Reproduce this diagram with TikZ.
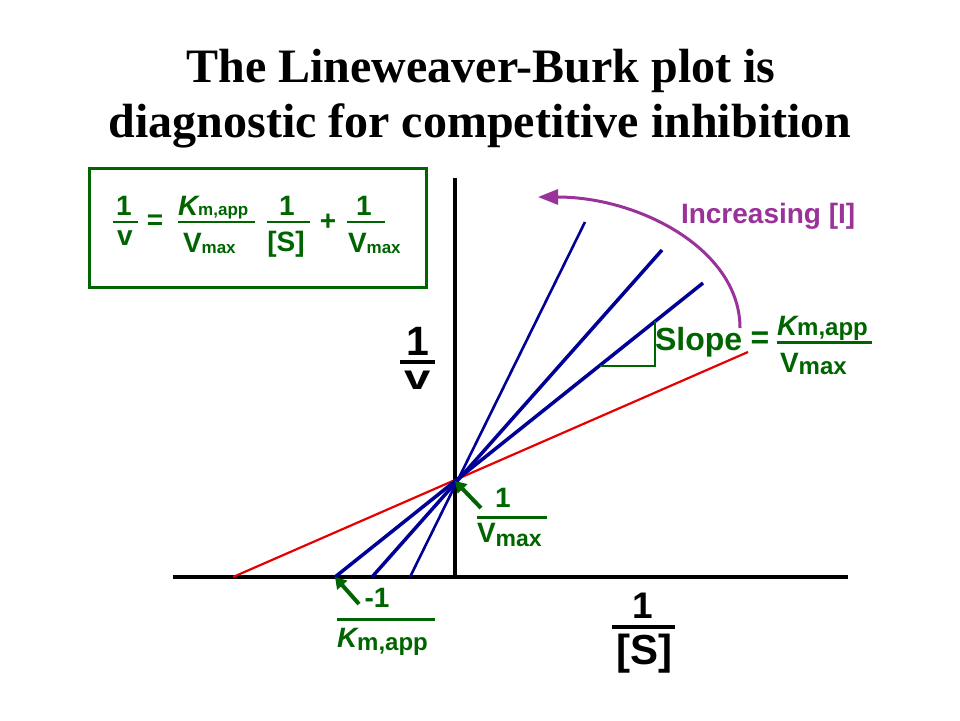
\documentclass[tikz,border=0pt]{standalone}
\usepackage{fontspec}
\setmainfont{Liberation Serif}
\newfontfamily\arialf{Liberation Sans}
\usetikzlibrary{arrows.meta}
\definecolor{dgreen}{RGB}{0,100,0}
\definecolor{lbpurple}{RGB}{153,51,153}
\definecolor{lbnavy}{RGB}{0,0,150}
\definecolor{lbred}{RGB}{230,0,0}
\newcommand\fsz[1]{\fontsize{#1}{#1}\selectfont}
\begin{document}
\begin{tikzpicture}[x=1pt,y=-1pt,
  title/.style={inner sep=0pt, font=\bfseries\fsz{48}, anchor=base},
  lbl/.style={inner sep=0pt, outer sep=0pt, font=\arialf\bfseries\fsz{28}},
  glbl/.style={lbl, text=dgreen},
  fbar/.style={dgreen, line width=2.5pt},
  kbar/.style={black, line width=4pt},
  axisline/.style={black, line width=4pt},
  blueline/.style={lbnavy, line width=3.5pt},
  redline/.style={lbred, line width=2.2pt},
  garrow/.style={dgreen, line width=4pt, -{Triangle[length=11pt,width=13pt]}},
  parrow/.style={lbpurple, line width=3pt, -{Triangle[length=20pt,width=15pt]}}]
\useasboundingbox (0,0) rectangle (960,720);
\fill[white] (0,0) rectangle (960,720);

% title
\node[title] (t1) at (481,82) {The Lineweaver-Burk plot is};
\node[title] (t2) at (480,137) {diagnostic for competitive inhibition};

% equation box
\node[draw=dgreen, line width=3pt, minimum width=337pt, minimum height=119pt, inner sep=0pt] (eqbox) at (257.5,227.5) {};
\node[glbl, anchor=base] (e1n) at (124,215) {1};
\draw[fbar] (113,222) -- (138,222);
\node[glbl, anchor=base] (e1d) at (125,245) {v};
\node[glbl] (eeq) at (155,222) {=};
\node[glbl, anchor=base west] (e2n) at (178,215) {\itshape K\upshape\fsz{17}m,app};
\draw[fbar] (178,222) -- (255,222);
\node[glbl, anchor=base west] (e2d) at (183,252) {V\raisebox{-1pt}{\fsz{17}max}};
\node[glbl, anchor=base] (e3n) at (287,215) {1};
\draw[fbar] (267,222) -- (310,222);
\node[glbl, anchor=base] (e3d) at (286,251) {[S]};
\node[glbl] (eplus) at (328,222) {+};
\node[glbl, anchor=base] (e4n) at (364,215) {1};
\draw[fbar] (347,222) -- (385,222);
\node[glbl, anchor=base west] (e4d) at (348,252) {V\raisebox{-1pt}{\fsz{17}max}};

% axes
\coordinate (xl) at (173,577);
\coordinate (xr) at (848,577);
\coordinate (yt) at (455,178);
\coordinate (yb) at (455,579);
\draw[axisline] (xl) -- (xr);
\draw[axisline] (yb) -- (yt);

% axis labels
\node[lbl, anchor=base, font=\arialf\bfseries\fsz{41}] (yn) at (418,355) {1};
\draw[kbar] (400,362) -- (435,362);
\node[lbl, anchor=base, font=\arialf\bfseries\fsz{35}] (yd) at (418,389) {\scalebox{1.35}[1]{v}};
\node[lbl, anchor=base, font=\arialf\bfseries\fsz{37}] (xn) at (643,618) {1};
\draw[kbar] (612,627) -- (675,627);
\node[lbl, anchor=base, font=\arialf\bfseries\fsz{42}] (xd) at (644,664) {[S]};

% lines
\coordinate (P) at (455,481);
\coordinate (rs) at (233,577);
\coordinate (re) at (748,352);
\coordinate (b1s) at (335,577);
\coordinate (b1e) at (703,283);
\coordinate (b2s) at (372,577);
\coordinate (b2e) at (662,250);
\coordinate (b3s) at (410,577);
\coordinate (b3e) at (585,222);
\draw[redline] (rs) -- (re);
\draw[blueline] (b1s) -- (b1e);
\draw[blueline] (b2s) -- (b2e);
\draw[blueline, line width=2.6pt] (b3s) -- (b3e);

% slope triangle
\coordinate (tr1) at (600,366);
\coordinate (tr2) at (655,366);
\coordinate (tr3) at (655,321);
\draw[dgreen, line width=2.5pt] (tr1) -- (tr2) -- (tr3);

% slope label
\node[glbl, anchor=base west, font=\arialf\bfseries\fsz{32}] (slope) at (655,350) {Slope};
\node[glbl, font=\arialf\bfseries\fsz{32}] (seq) at (760,340) {=};
\node[glbl, anchor=base west] (sn) at (777,335) {\itshape K\upshape\fsz{24}m,app};
\draw[fbar, line width=3pt] (777,342) -- (872,342);
\node[glbl, anchor=base west] (sd) at (780,372) {V\raisebox{-2pt}{\fsz{24}max}};

% increasing [I]
\coordinate (as) at (740,328);
\coordinate (ae) at (538,197);
\draw[parrow] (as) .. controls (740,250) and (640,197) .. (ae);
\node[lbl, anchor=base west, text=lbpurple] (inc) at (681,223) {Increasing [I]};

% 1/Vmax label
\node[glbl, anchor=base] (vn) at (503,507) {1};
\draw[fbar, line width=3pt] (477,517) -- (547,517);
\node[glbl, anchor=base west] (vd) at (477,542) {V\raisebox{-4pt}{\fsz{23}max}};
\coordinate (va) at (481,508);
\draw[garrow] (va) -- (P);

% -1/Km,app label
\node[glbl, anchor=base] (kn) at (377,607) {-1};
\draw[fbar, line width=3pt] (337,619) -- (435,619);
\node[glbl, anchor=base west] (kd) at (337,647) {\itshape K\upshape\raisebox{-3pt}{\fsz{24}m,app}};
\coordinate (ka) at (359,604);
\draw[garrow] (ka) -- (b1s);
\end{tikzpicture}
\end{document}
